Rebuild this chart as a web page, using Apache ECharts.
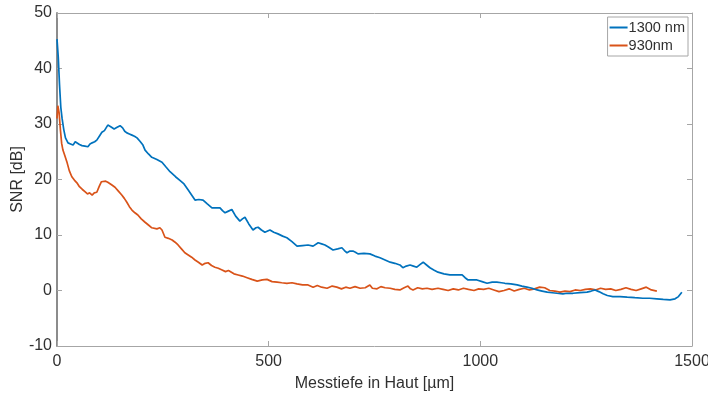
<!DOCTYPE html>
<html>
<head>
<meta charset="utf-8">
<script src="https://cdn.jsdelivr.net/npm/echarts@6/dist/echarts.min.js"></script>
<style>
  html, body { margin: 0; padding: 0; background: #fff; }
  #chart { width: 708px; height: 394px; }
</style>
</head>
<body>
<div id="chart"></div>
<script>
// SNR über Messtiefe, zwei Wellenlängen
const seriesNames = ['1300 nm', '930nm']

const depth1300 = [0, 3, 6, 9, 12, 16, 20, 26, 32, 38, 43, 47, 53, 59, 66, 73, 78, 83, 89, 94,
  100, 106, 112, 120, 127, 135, 142, 149, 155, 160, 165, 171, 177, 183, 189, 196, 203, 208, 216, 224,
  236, 248, 258, 267, 280, 291, 300, 310, 318, 326, 335, 345, 355, 366, 375, 385, 391, 397, 405, 413,
  422, 432, 438, 444, 453, 463, 470, 475, 483, 491, 503, 512, 522, 533, 543, 555, 567, 580, 593, 605,
  617, 625, 633, 642, 652, 663, 673, 679, 685, 692, 699, 705, 711, 725, 739, 751, 763, 775, 787, 798,
  810, 817, 825, 834, 842, 850, 858, 865, 873, 881, 890, 900, 914, 928, 942, 957, 964, 971, 982, 992,
  1004, 1016, 1028, 1039, 1050, 1058, 1072, 1087, 1098, 1110, 1122, 1134, 1146, 1158, 1170, 1181, 1195, 1205, 1219, 1235,
  1252, 1262, 1271, 1280, 1290, 1300, 1313, 1330, 1347, 1365, 1384, 1400, 1417, 1432, 1448, 1460, 1468, 1472, 1476]
const snr1300 = [45.3, 42, 37, 33, 31, 29, 27.5, 26.6, 26.4, 26.2, 26.8, 26.6, 26.3, 26.1, 26.0, 25.9, 26.4, 26.6, 26.8, 27.1,
  27.8, 28.5, 28.8, 29.8, 29.5, 29.1, 29.4, 29.7, 29.3, 28.7, 28.4, 28.2, 28.0, 27.8, 27.5, 26.9, 26.2, 25.3, 24.6, 24.0,
  23.6, 23.1, 22.2, 21.4, 20.5, 19.8, 19.2, 18.1, 17.2, 16.3, 16.4, 16.3, 15.6, 14.9, 14.9, 14.9, 14.4, 14.0, 14.3, 14.6,
  13.4, 12.5, 12.9, 13.2, 12.0, 10.9, 11.3, 11.4, 10.9, 10.5, 10.9, 10.5, 10.2, 9.8, 9.5, 8.8, 8.0, 8.1, 8.2, 8.0,
  8.6, 8.4, 8.2, 7.8, 7.3, 7.5, 7.7, 7.2, 6.8, 7.1, 7.1, 6.9, 6.6, 6.7, 6.6, 6.2, 5.9, 5.5, 5.1, 4.9,
  4.6, 4.1, 4.4, 4.6, 4.4, 4.2, 4.7, 5.1, 4.6, 4.1, 3.7, 3.3, 3.0, 2.8, 2.8, 2.8, 2.3, 1.9, 1.9, 1.9,
  1.6, 1.3, 1.5, 1.5, 1.4, 1.3, 1.2, 1.0, 0.8, 0.6, 0.4, 0.1, -0.1, -0.3, -0.4, -0.5, -0.6, -0.5, -0.5, -0.4,
  -0.3, -0.1, 0.1, -0.2, -0.6, -0.9, -1.1, -1.1, -1.2, -1.3, -1.4, -1.4, -1.5, -1.6, -1.7, -1.5, -1.1, -0.8, -0.3]

const depth930 = [0, 2, 5, 8, 11, 14, 18, 24, 29, 35, 41, 47, 53, 60, 66, 72, 77, 83, 88, 94,
  100, 105, 109, 115, 120, 128, 137, 145, 153, 159, 165, 171, 177, 184, 191, 199, 208, 216, 224, 236,
  243, 248, 255, 263, 272, 279, 286, 294, 302, 310, 318, 326, 334, 343, 350, 357, 365, 373, 381, 390,
  398, 405, 409, 418, 428, 438, 449, 460, 473, 485, 496, 508, 520, 531, 543, 555, 567, 580, 593, 605,
  615, 625, 638, 650, 661, 672, 682, 692, 704, 716, 728, 739, 745, 756, 765, 775, 787, 798, 810, 820,
  829, 835, 841, 852, 863, 874, 886, 900, 912, 924, 936, 948, 960, 972, 985, 996, 1008, 1020, 1032, 1044,
  1056, 1068, 1080, 1092, 1104, 1116, 1128, 1140, 1152, 1164, 1176, 1188, 1200, 1212, 1224, 1236, 1248, 1260, 1272, 1284,
  1296, 1308, 1320, 1332, 1344, 1356, 1368, 1380, 1392, 1404, 1417]
const snr930 = [31.0, 33.3, 32.0, 29.0, 26.5, 25.3, 24.4, 23.0, 21.6, 20.5, 19.9, 19.4, 18.7, 18.2, 17.8, 17.4, 17.6, 17.2, 17.6, 17.7,
  18.8, 19.6, 19.9, 19.7, 19.5, 19.1, 18.6, 17.9, 17.2, 16.6, 15.9, 15.1, 14.5, 14.0, 13.6, 12.9, 12.3, 11.8, 11.3, 11.1,
  11.3, 10.9, 9.6, 9.4, 9.1, 8.7, 8.2, 7.5, 6.8, 6.4, 6.0, 5.5, 5.1, 4.6, 4.9, 5.0, 4.5, 4.2, 4.0, 3.7,
  3.4, 3.6, 3.3, 3.0, 2.8, 2.6, 2.3, 2.0, 1.7, 1.9, 2.0, 1.6, 1.5, 1.4, 1.3, 1.4, 1.2, 1.0, 1.0, 0.6,
  0.9, 0.6, 0.4, 0.8, 0.6, 0.3, 0.6, 0.4, 0.7, 0.4, 0.5, 1.0, 0.4, 0.3, 0.7, 0.5, 0.4, 0.2, 0.1, 0.5,
  0.8, 0.3, 0.1, 0.5, 0.3, 0.4, 0.2, 0.4, 0.2, 0.0, 0.3, 0.1, 0.4, 0.2, 0.0, 0.3, 0.2, 0.4, 0.1, -0.2,
  0.0, 0.3, -0.1, 0.2, 0.4, 0.1, 0.3, 0.6, 0.5, 0.0, -0.1, -0.3, -0.1, -0.2, 0.1, 0.0, 0.2, 0.3, 0.1, 0.4,
  0.2, 0.3, 0.0, 0.2, 0.5, 0.2, 0.0, 0.3, 0.6, 0.1, -0.1]

const xTicks = [0, 500, 1000, 1500]
const yTicks = [-10, 0, 10, 20, 30, 40, 50]

const pairs = (xs, ys) => xs.map((x, i) => [x, ys[i]])

const font = 'Liberation Sans, Arial, sans-serif'
const textColor = '#303030'
const boxColor = '#a6a6a6'

let chartDom = document.getElementById('chart')
let myChart = echarts.init(chartDom)

const mirrorAxis = {
  axisLine: { show: true, onZero: false, lineStyle: { color: boxColor, width: 1 } },
  axisTick: { show: true, inside: true, length: 5, lineStyle: { color: boxColor } },
  axisLabel: { show: false },
  splitLine: { show: false }
}

let option = {
  animation: false,
  grid: { left: 57, right: 16, top: 13, bottom: 48, outerBoundsMode: 'none' },
  legend: {
    data: seriesNames,
    orient: 'vertical',
    right: 20,
    top: 17,
    padding: [3, 3, 3, 2],
    itemGap: 3,
    itemWidth: 18,
    itemHeight: 2,
    icon: 'rect',
    backgroundColor: '#fff',
    borderColor: '#a6a6a6',
    borderWidth: 1,
    borderRadius: 0,
    textStyle: { fontFamily: font, fontSize: 14.5, color: textColor, padding: [0, 0, 0, -4] }
  },
  xAxis: [{
    type: 'value',
    min: xTicks[0],
    max: xTicks[xTicks.length - 1],
    interval: 500,
    name: 'Messtiefe in Haut [µm]',
    nameLocation: 'middle',
    nameGap: 30,
    nameMoveOverlap: false,
    nameTextStyle: { fontFamily: font, fontSize: 16, color: textColor },
    axisLine: { show: true, onZero: false, lineStyle: { color: boxColor, width: 1 } },
    axisTick: { show: true, inside: true, length: 5, lineStyle: { color: boxColor } },
    axisLabel: { fontFamily: font, fontSize: 16, color: textColor, margin: 8, formatter: v => String(v) },
    splitLine: { show: false }
  }, Object.assign({
    type: 'value', position: 'top', min: xTicks[0], max: xTicks[xTicks.length - 1], interval: 500
  }, mirrorAxis)],
  yAxis: [{
    type: 'value',
    min: yTicks[0],
    max: yTicks[yTicks.length - 1],
    interval: 10,
    name: 'SNR [dB]',
    nameLocation: 'middle',
    nameGap: 31,
    nameMoveOverlap: false,
    nameTextStyle: { fontFamily: font, fontSize: 16, color: textColor },
    axisLine: { show: true, onZero: false, lineStyle: { color: '#8c8c8c', width: 2 } },
    axisTick: { show: true, inside: true, length: 5, lineStyle: { color: boxColor } },
    axisLabel: { fontFamily: font, fontSize: 16, color: textColor, margin: 5, formatter: v => String(v) },
    splitLine: { show: false }
  }, Object.assign({
    type: 'value', position: 'right', min: yTicks[0], max: yTicks[yTicks.length - 1], interval: 10
  }, mirrorAxis)],
  series: [{
    name: seriesNames[0],
    type: 'line',
    data: pairs(depth1300, snr1300),
    showSymbol: false,
    symbol: 'none',
    lineStyle: { color: '#0072BD', width: 1.7 },
    itemStyle: { color: '#0072BD' },
    z: 3
  }, {
    name: seriesNames[1],
    type: 'line',
    data: pairs(depth930, snr930),
    showSymbol: false,
    symbol: 'none',
    lineStyle: { color: '#D95319', width: 1.7 },
    itemStyle: { color: '#D95319' },
    z: 2
  }]
}
myChart.setOption(option)
</script>
</body>
</html>
